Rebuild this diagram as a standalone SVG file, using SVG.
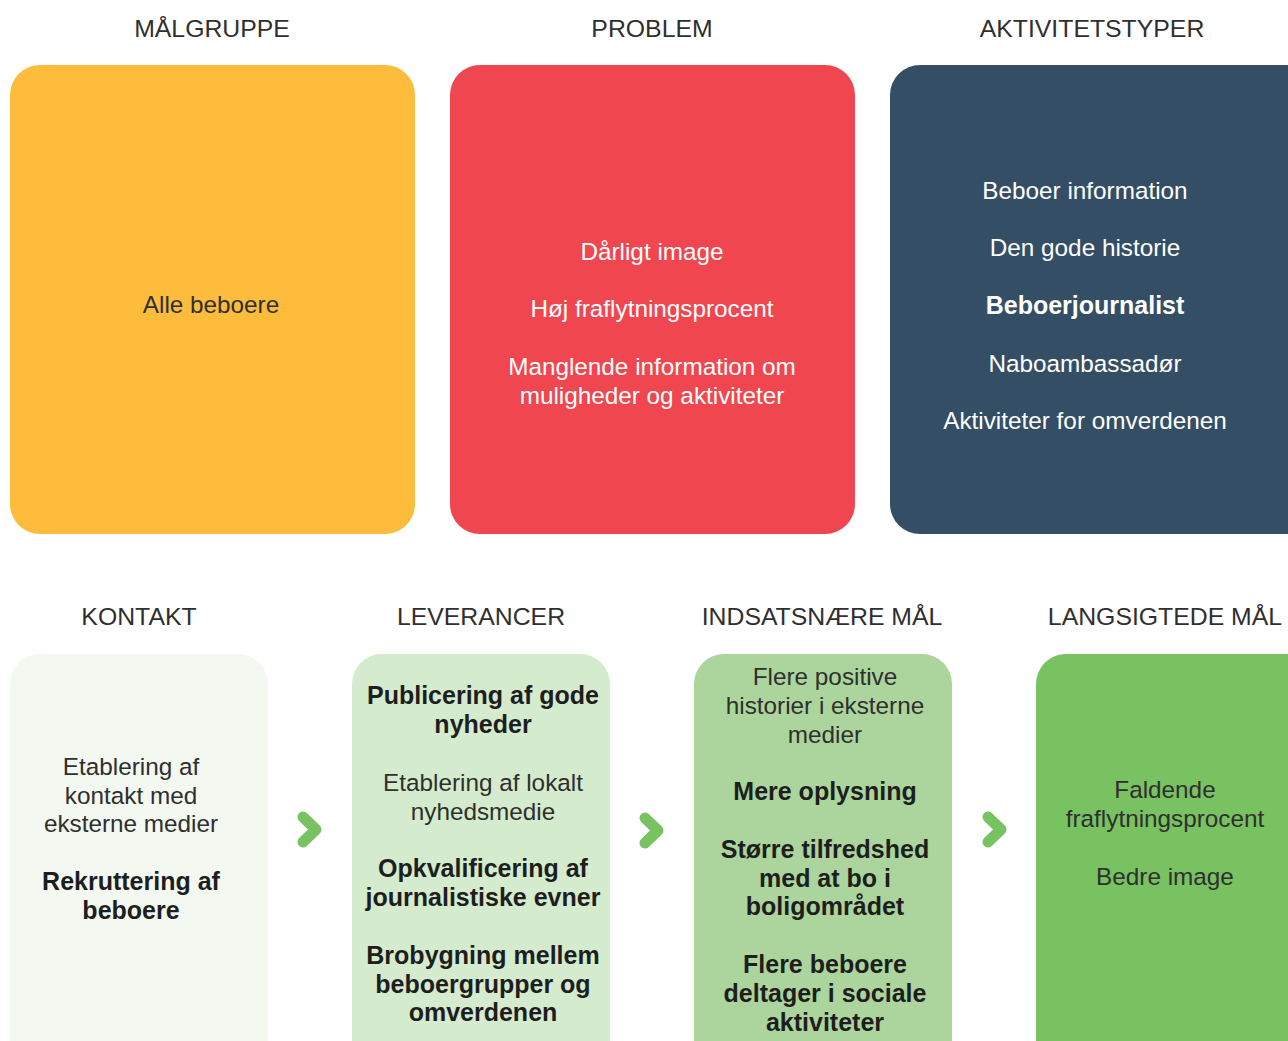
<svg xmlns="http://www.w3.org/2000/svg" width="1288" height="1041" viewBox="0 0 1288 1041">
  <style>
    .h { font-family: "Liberation Sans", Arial, sans-serif; font-size: 24.8px; fill: #2f2f2f; text-anchor: middle; }
    .t { font-family: "Liberation Sans", Arial, sans-serif; font-size: 24.3px; text-anchor: middle; }
    .dark { fill: #2f2f2f; }
    .light { fill: #ffffff; }
    .b { font-weight: bold; font-size: 25px; fill-opacity: 1; }
    .dark.b { fill: #1e1e1e; }
    .chev { fill: none; stroke: #78c262; stroke-width: 11; stroke-linecap: round; stroke-linejoin: round; }
  </style>
  <rect width="1288" height="1041" fill="#ffffff"/>

  <g id="headings">
    <text class="h" x="212" y="37">MÅLGRUPPE</text>
    <text class="h" x="652" y="37">PROBLEM</text>
    <text class="h" x="1092" y="37">AKTIVITETSTYPER</text>
    <text class="h" x="139" y="625">KONTAKT</text>
    <text class="h" x="481" y="625">LEVERANCER</text>
    <text class="h" x="822" y="625">INDSATSNÆRE MÅL</text>
    <text class="h" x="1165" y="625">LANGSIGTEDE MÅL</text>
  </g>

  <g id="malgruppe">
    <rect x="10" y="65" width="405" height="469" rx="30" fill="#fdbc3b"/>
    <text class="t dark" x="211" y="313">Alle beboere</text>
  </g>

  <g id="problem">
    <rect x="450" y="65" width="405" height="469" rx="30" fill="#ef464f"/>
    <text class="t light" x="652" y="260">Dårligt image</text>
    <text class="t light" x="652" y="317">Høj fraflytningsprocent</text>
    <text class="t light" x="652" y="375">Manglende information om</text>
    <text class="t light" x="652" y="404">muligheder og aktiviteter</text>
  </g>

  <g id="aktivitetstyper">
    <rect x="890" y="65" width="440" height="469" rx="30" fill="#344e65"/>
    <text class="t light" x="1085" y="199">Beboer information</text>
    <text class="t light" x="1085" y="256">Den gode historie</text>
    <text class="t light b" x="1085" y="314">Beboerjournalist</text>
    <text class="t light" x="1085" y="372">Naboambassadør</text>
    <text class="t light" x="1085" y="429">Aktiviteter for omverdenen</text>
  </g>

  <g id="kontakt">
    <rect x="10" y="654" width="258" height="430" rx="30" fill="#f3f8f1"/>
    <text class="t dark" x="131" y="775">Etablering af</text>
    <text class="t dark" x="131" y="804">kontakt med</text>
    <text class="t dark" x="131" y="832">eksterne medier</text>
    <text class="t dark b" x="131" y="890">Rekruttering af</text>
    <text class="t dark b" x="131" y="919">beboere</text>
  </g>

  <g id="leverancer">
    <rect x="352" y="654" width="258" height="430" rx="30" fill="#d4ebcd"/>
    <text class="t dark b" x="483" y="704">Publicering af gode</text>
    <text class="t dark b" x="483" y="733">nyheder</text>
    <text class="t dark" x="483" y="791">Etablering af lokalt</text>
    <text class="t dark" x="483" y="820">nyhedsmedie</text>
    <text class="t dark b" x="483" y="877">Opkvalificering af</text>
    <text class="t dark b" x="483" y="906">journalistiske evner</text>
    <text class="t dark b" x="483" y="964">Brobygning mellem</text>
    <text class="t dark b" x="483" y="993">beboergrupper og</text>
    <text class="t dark b" x="483" y="1021">omverdenen</text>
  </g>

  <g id="indsatsnaere">
    <rect x="694" y="654" width="258" height="430" rx="30" fill="#abd59c"/>
    <text class="t dark" x="825" y="685">Flere positive</text>
    <text class="t dark" x="825" y="714">historier i eksterne</text>
    <text class="t dark" x="825" y="743">medier</text>
    <text class="t dark b" x="825" y="800">Mere oplysning</text>
    <text class="t dark b" x="825" y="858">Større tilfredshed</text>
    <text class="t dark b" x="825" y="887">med at bo i</text>
    <text class="t dark b" x="825" y="915">boligområdet</text>
    <text class="t dark b" x="825" y="973">Flere beboere</text>
    <text class="t dark b" x="825" y="1002">deltager i sociale</text>
    <text class="t dark b" x="825" y="1031">aktiviteter</text>
  </g>

  <g id="langsigtede">
    <rect x="1036" y="654" width="290" height="430" rx="30" fill="#78c262"/>
    <text class="t dark" x="1165" y="798">Faldende</text>
    <text class="t dark" x="1165" y="827">fraflytningsprocent</text>
    <text class="t dark" x="1165" y="885">Bedre image</text>
  </g>

  <g id="connectors">
    <polyline class="chev" points="303,817 316,829.5 303,842"/>
    <polyline class="chev" points="645,818 658,830.5 645,843"/>
    <polyline class="chev" points="988,817 1001,829.5 988,842"/>
  </g>
</svg>
